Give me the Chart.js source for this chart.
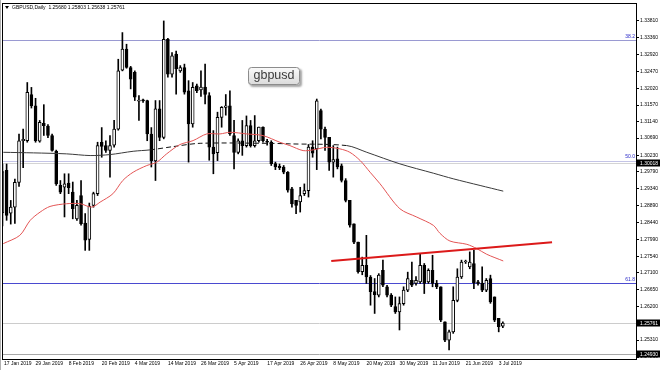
<!DOCTYPE html>
<html>
<head>
<meta charset="utf-8">
<script src="https://cdn.jsdelivr.net/npm/chart.js@4.4.1/dist/chart.umd.min.js"></script>
<style>
  html, body { margin: 0; padding: 0; background: #fff; }
  #wrap { width: 661px; height: 370px; }
</style>
</head>
<body>
<div id="wrap"><canvas id="chart" width="661" height="370"></canvas></div>
<script>
// -------- Data (GBPUSD daily, 17 Jan 2019 - 4 Jul 2019) --------
const opens = [
  1.2870, 1.2983, 1.2869, 1.2885, 1.2951, 1.3062, 1.3062, 1.3185, 1.3155, 1.3061,
  1.3108, 1.3101, 1.3076, 1.3034, 1.2943, 1.2938, 1.2949, 1.2925, 1.2854, 1.2916,
  1.2843, 1.2799, 1.2890, 1.2921, 1.3058, 1.3049, 1.3036, 1.3050, 1.3093, 1.3250,
  1.3306, 1.3257, 1.3244, 1.3167, 1.3169, 1.3169, 1.3080, 1.3008, 1.3147, 1.3071,
  1.3332, 1.3239, 1.3293, 1.3248, 1.3257, 1.3195, 1.3107, 1.3208, 1.3197, 1.3205,
  1.3182, 1.3045, 1.3030, 1.3124, 1.3151, 1.3155, 1.3076, 1.3031, 1.3062, 1.3049,
  1.3102, 1.3049, 1.3062, 1.3098, 1.3060, 1.3058, 1.3001, 1.2994, 1.2992, 1.2978,
  1.2934, 1.2903, 1.2899, 1.2921, 1.2929, 1.3045, 1.3040, 1.3142, 1.3093, 1.3071,
  1.3005, 1.3014, 1.2995, 1.2956, 1.2903, 1.2841, 1.2792, 1.2713, 1.2730, 1.2699,
  1.2660, 1.2651, 1.2717, 1.2673, 1.2651, 1.2620, 1.2606, 1.2628, 1.2664, 1.2690,
  1.2682, 1.2686, 1.2730, 1.2686, 1.2717, 1.2682, 1.2673, 1.2580, 1.2531, 1.2553,
  1.2637, 1.2699, 1.2739, 1.2726, 1.2735, 1.2686, 1.2683, 1.2664, 1.2695, 1.2646,
  1.2589, 1.2568
];
const highs = [
  1.3000, 1.3000, 1.2903, 1.2960, 1.3080, 1.3093, 1.3217, 1.3204, 1.3175, 1.3116,
  1.3158, 1.3105, 1.3080, 1.3037, 1.2956, 1.2974, 1.2974, 1.2952, 1.2903, 1.2956,
  1.2868, 1.2896, 1.2925, 1.3058, 1.3097, 1.3062, 1.3076, 1.3116, 1.3279, 1.3350,
  1.3319, 1.3260, 1.3248, 1.3182, 1.3173, 1.3170, 1.3097, 1.3169, 1.3169, 1.3381,
  1.3335, 1.3297, 1.3301, 1.3262, 1.3266, 1.3222, 1.3217, 1.3213, 1.3248, 1.3266,
  1.3190, 1.3089, 1.3138, 1.3153, 1.3185, 1.3195, 1.3116, 1.3067, 1.3116, 1.3128,
  1.3116, 1.3129, 1.3098, 1.3099, 1.3066, 1.3062, 1.3005, 1.3000, 1.2996, 1.2980,
  1.2938, 1.2903, 1.2938, 1.2947, 1.3052, 1.3062, 1.3173, 1.3146, 1.3098, 1.3071,
  1.3049, 1.3045, 1.3000, 1.2961, 1.2903, 1.2841, 1.2792, 1.2752, 1.2810, 1.2703,
  1.2695, 1.2708, 1.2744, 1.2677, 1.2655, 1.2646, 1.2646, 1.2673, 1.2712, 1.2739,
  1.2700, 1.2761, 1.2735, 1.2721, 1.2757, 1.2690, 1.2673, 1.2580, 1.2558, 1.2673,
  1.2721, 1.2744, 1.2744, 1.2766, 1.2770, 1.2690, 1.2726, 1.2695, 1.2704, 1.2646,
  1.2589, 1.2580
];
const lows = [
  1.2835, 1.2850, 1.2840, 1.2842, 1.2940, 1.2990, 1.3058, 1.3149, 1.3058, 1.3058,
  1.3076, 1.3070, 1.3034, 1.2943, 1.2921, 1.2859, 1.2921, 1.2854, 1.2850, 1.2837,
  1.2770, 1.2770, 1.2885, 1.2916, 1.3018, 1.3031, 1.2965, 1.3045, 1.3090, 1.3248,
  1.3255, 1.3200, 1.3169, 1.3116, 1.3164, 1.3062, 1.2992, 1.2956, 1.3062, 1.3067,
  1.3231, 1.3231, 1.3186, 1.3244, 1.3186, 1.3005, 1.3098, 1.3190, 1.3180, 1.3160,
  1.3010, 1.2974, 1.3009, 1.3098, 1.3130, 1.3076, 1.2987, 1.3027, 1.3023, 1.3045,
  1.3045, 1.3045, 1.3058, 1.3058, 1.3050, 1.2996, 1.2985, 1.2985, 1.2974, 1.2925,
  1.2885, 1.2868, 1.2872, 1.2916, 1.2912, 1.3018, 1.2985, 1.3067, 1.3036, 1.2983,
  1.2965, 1.2987, 1.2952, 1.2899, 1.2832, 1.2788, 1.2709, 1.2705, 1.2682, 1.2624,
  1.2602, 1.2646, 1.2673, 1.2646, 1.2620, 1.2602, 1.2558, 1.2624, 1.2660, 1.2673,
  1.2677, 1.2682, 1.2655, 1.2682, 1.2673, 1.2668, 1.2580, 1.2527, 1.2505, 1.2549,
  1.2633, 1.2695, 1.2735, 1.2721, 1.2668, 1.2677, 1.2660, 1.2660, 1.2629, 1.2580,
  1.2553, 1.2564
];
const closes = [
  1.2980, 1.2863, 1.2885, 1.2951, 1.3062, 1.3066, 1.3191, 1.3155, 1.3062, 1.3111,
  1.3102, 1.3076, 1.3036, 1.2947, 1.2925, 1.2947, 1.2937, 1.2881, 1.2890, 1.2841,
  1.2797, 1.2887, 1.2921, 1.3049, 1.3047, 1.3036, 1.3049, 1.3093, 1.3248, 1.3306,
  1.3257, 1.3226, 1.3178, 1.3170, 1.3168, 1.3080, 1.3009, 1.3147, 1.3071, 1.3332,
  1.3239, 1.3288, 1.3253, 1.3257, 1.3191, 1.3107, 1.3204, 1.3195, 1.3205, 1.3185,
  1.3045, 1.3027, 1.3124, 1.3151, 1.3155, 1.3080, 1.3031, 1.3062, 1.3049, 1.3102,
  1.3049, 1.3062, 1.3098, 1.3062, 1.3058, 1.3001, 1.2992, 1.2990, 1.2978, 1.2930,
  1.2894, 1.2890, 1.2916, 1.2929, 1.3045, 1.3029, 1.3168, 1.3093, 1.3071, 1.3005,
  1.3012, 1.2992, 1.2956, 1.2903, 1.2837, 1.2792, 1.2713, 1.2730, 1.2699, 1.2660,
  1.2652, 1.2704, 1.2677, 1.2651, 1.2624, 1.2606, 1.2628, 1.2664, 1.2695, 1.2677,
  1.2690, 1.2730, 1.2682, 1.2717, 1.2682, 1.2673, 1.2584, 1.2531, 1.2553, 1.2637,
  1.2699, 1.2739, 1.2740, 1.2739, 1.2683, 1.2682, 1.2664, 1.2690, 1.2633, 1.2584,
  1.2567, 1.25761
];

// date labels shown every 8 bars
const dateBars = [0, 8, 16, 24, 32, 40, 48, 56, 64, 72, 80, 88, 96, 104, 112, 120];
const dateLabels = ['17 Jan 2019', '29 Jan 2019', '8 Feb 2019', '20 Feb 2019', '4 Mar 2019',
  '14 Mar 2019', '26 Mar 2019', '5 Apr 2019', '17 Apr 2019', '26 Apr 2019', '8 May 2019',
  '20 May 2019', '30 May 2019', '11 Jun 2019', '21 Jun 2019', '3 Jul 2019'];

const priceTicks = [1.33810, 1.33360, 1.32920, 1.32470, 1.32020, 1.31570, 1.31140, 1.30690,
  1.30230, 1.29790, 1.29340, 1.28890, 1.28440, 1.27990, 1.27540, 1.27100, 1.26650,
  1.26200, 1.25310, 1.24860];

// moving averages, read at sample bars
const redMaBars = [0.2, 4.2, 6.7, 9.1, 11.5, 15.5, 18.8, 21.6, 23.6, 26.7, 29.1, 31.6, 34.9,
  37.3, 39.7, 42.9, 46.1, 49.4, 52.6, 55.0, 59.1, 63.0, 67.1, 69.5, 72.7, 75.1, 78.4, 81.6,
  84.0, 86.5, 88.9, 91.3, 96.1, 100.2, 104.2, 105.8, 108.2, 112.3, 114.7, 117.1, 121.1];
const redMaValues = [1.27880, 1.28100, 1.28499, 1.28719, 1.28870, 1.28942, 1.28942, 1.28852,
  1.28984, 1.29208, 1.29561, 1.29781, 1.29959, 1.30047, 1.30270, 1.30517, 1.30623, 1.30801,
  1.30801, 1.30844, 1.30801, 1.30756, 1.30578, 1.30490, 1.30357, 1.30376, 1.30445, 1.30403,
  1.30312, 1.30092, 1.29781, 1.29473, 1.28809, 1.28586, 1.28366, 1.28153, 1.27949, 1.27861,
  1.27747, 1.27596, 1.27418];
const slowMaBars = [0.2, 7.5, 15.5, 21.2, 26.0, 31.6, 35.7, 41.3, 47.8, 64.0, 69.5, 83.3,
  88.1, 96.1, 104.2, 109.0, 115.5, 121.1];
const slowMaValues = [1.30312, 1.30296, 1.30270, 1.30225, 1.30251, 1.30339, 1.30376, 1.30464,
  1.30551, 1.30551, 1.30536, 1.30490, 1.30312, 1.30004, 1.29755, 1.29606, 1.29428, 1.29277];

// trendline
const trendBars = [79.5, 132.9];
const trendValues = [1.27417, 1.27914];

// fibo levels and horizontal lines
const fibLevels = [1.33305, 1.30092, 1.26833];
const fibNames = ['38.2', '50.0', '61.8'];
const fibColors = ['#9a9ad2', '#c4c4e6', '#4a4ad0'];
const priceLines = [1.30018, 1.25761, 1.24930];
const priceLineColors = ['#d4d4d4', '#cccccc', '#a8a8a8'];

const header = 'GBPUSD,Daily  1.25680 1.25803 1.25638 1.25761';
const tinyFont = '5px "Liberation Sans", Arial, sans-serif';

// -------- Decorations (MT4 look) --------
const mtDecor = {
    id: 'mtDecor',
    beforeDatasetsDraw(chart) {
        const { ctx, chartArea: a, scales: { y } } = chart;
        ctx.save();
        ctx.lineWidth = 1;
        priceLines.forEach((v, i) => {
            const py = Math.round(y.getPixelForValue(v)) + 0.5;
            ctx.strokeStyle = priceLineColors[i];
            ctx.beginPath(); ctx.moveTo(a.left, py); ctx.lineTo(a.right, py); ctx.stroke();
        });
        fibLevels.forEach((v, i) => {
            const py = Math.round(y.getPixelForValue(v)) + 0.5;
            ctx.strokeStyle = fibColors[i];
            ctx.beginPath(); ctx.moveTo(a.left, py); ctx.lineTo(a.right, py); ctx.stroke();
        });
        ctx.restore();
    },
    afterDraw(chart) {
        const { ctx, chartArea: a, scales: { x, y } } = chart;
        ctx.save();

        // frame
        ctx.strokeStyle = '#000';
        ctx.lineWidth = 1;
        ctx.strokeRect(a.left - 0.5, a.top - 0.5, a.right - a.left + 1, a.bottom - a.top + 1);
        ctx.strokeStyle = '#b0b0b0';
        ctx.beginPath(); ctx.moveTo(0.5, 0); ctx.lineTo(0.5, 370); ctx.stroke();

        // date labels under the chart
        ctx.font = tinyFont;
        ctx.fillStyle = '#000';
        ctx.textAlign = 'left';
        ctx.textBaseline = 'middle';
        dateBars.forEach((b, i) => {
            ctx.fillText(dateLabels[i], Math.max(x.getPixelForValue(b), a.left + 1), a.bottom + 5);
        });

        // fibo labels
        ctx.textAlign = 'right';
        ctx.textBaseline = 'bottom';
        ctx.fillStyle = '#2a2ac8';
        fibLevels.forEach((v, i) => {
            ctx.fillText(fibNames[i], a.right - 1, y.getPixelForValue(v) - 1);
        });

        // price boxes on the axis
        ctx.textAlign = 'left';
        ctx.textBaseline = 'middle';
        priceLines.forEach(v => {
            const py = Math.round(y.getPixelForValue(v));
            ctx.fillStyle = '#000';
            ctx.fillRect(a.right + 1, py - 3.5, 23, 7);
            ctx.fillStyle = '#fff';
            ctx.fillText(v.toFixed(5), a.right + 4, py + 0.5);
        });

        // header
        ctx.fillStyle = '#000';
        ctx.beginPath();
        ctx.moveTo(5, 6); ctx.lineTo(9, 6); ctx.lineTo(7, 9); ctx.closePath(); ctx.fill();
        ctx.fillText(header, 12, 7.5);

        // gbpusd label box
        const bx = 248, by = 67, bw = 52, bh = 18;
        ctx.shadowColor = 'rgba(0,0,0,0.35)';
        ctx.shadowOffsetX = 2; ctx.shadowOffsetY = 2; ctx.shadowBlur = 2;
        const g = ctx.createLinearGradient(0, by, 0, by + bh);
        g.addColorStop(0, '#fbfbfb'); g.addColorStop(1, '#dadada');
        ctx.fillStyle = g;
        ctx.beginPath(); ctx.roundRect(bx, by, bw, bh, 3); ctx.fill();
        ctx.shadowColor = 'transparent';
        ctx.strokeStyle = '#8c8c8c';
        ctx.beginPath(); ctx.roundRect(bx + 0.5, by + 0.5, bw - 1, bh - 1, 3); ctx.stroke();
        ctx.fillStyle = '#3a3a3a';
        ctx.font = '12.5px "Liberation Sans", Arial, sans-serif';
        ctx.textAlign = 'center';
        ctx.textBaseline = 'middle';
        ctx.fillText('gbpusd', bx + bw / 2, by + bh / 2);

        ctx.restore();
    }
};

// -------- Chart --------
const pts = (xs, ys) => xs.map((x, i) => ({ x: x, y: ys[i] }));
const bodyColors = opens.map((o, i) => closes[i] >= o ? '#ffffff' : '#000000');
// slow MA looks dashed across the sideways stretch
const inDashZone = c => c.p0.parsed.x >= 35 && c.p1.parsed.x <= 84;

new Chart(document.getElementById('chart').getContext('2d'), {
    type: 'bar',
    data: {
        datasets: [
            {
                type: 'line', label: 'trend', data: pts(trendBars, trendValues),
                borderColor: '#dc1a1a', borderWidth: 2, pointRadius: 0
            },
            {
                type: 'line', label: 'ma fast', data: pts(redMaBars, redMaValues),
                borderColor: '#e35555', borderWidth: 1, pointRadius: 0, tension: 0.3
            },
            {
                type: 'line', label: 'ma slow', data: pts(slowMaBars, slowMaValues),
                borderColor: '#3a3a3a', borderWidth: 1, pointRadius: 0, tension: 0.3,
                segment: {
                    borderDash: c => inDashZone(c) ? [5, 3] : undefined,
                    borderColor: c => inDashZone(c) ? '#111' : undefined
                }
            },
            {
                label: 'body', data: opens.map((o, i) => ({ x: i, y: [o, closes[i]] })),
                backgroundColor: bodyColors, borderColor: '#000', borderWidth: 1,
                borderSkipped: false, barThickness: 3, grouped: false, minBarLength: 1
            },
            {
                label: 'wick', data: lows.map((l, i) => ({ x: i, y: [l, highs[i]] })),
                backgroundColor: '#000', barThickness: 1, grouped: false
            }
        ]
    },
    options: {
        responsive: false,
        animation: false,
        devicePixelRatio: 1,
        layout: { padding: { left: 3, top: 3, right: 0, bottom: 0 } },
        plugins: { legend: { display: false }, tooltip: { enabled: false } },
        scales: {
            x: {
                type: 'linear', min: 0.128, max: 153.2, offset: false,
                grid: { display: false, offset: false },
                border: { display: false },
                afterBuildTicks: s => { s.ticks = dateBars.map(v => ({ value: v })); },
                afterFit: s => { s.height = 11; },
                ticks: { display: false }
            },
            y: {
                type: 'linear', position: 'right', min: 1.24807, max: 1.34261,
                grid: { drawOnChartArea: false, drawTicks: true, tickLength: 3, color: '#000' },
                border: { display: true, color: '#000' },
                afterBuildTicks: s => { s.ticks = priceTicks.map(v => ({ value: v })); },
                afterFit: s => { s.width = 25; },
                ticks: {
                    padding: 1, color: '#000',
                    font: { size: 5, family: '"Liberation Sans", Arial, sans-serif' },
                    callback: v => v.toFixed(5)
                }
            }
        }
    },
    plugins: [mtDecor]
});
</script>
</body>
</html>
